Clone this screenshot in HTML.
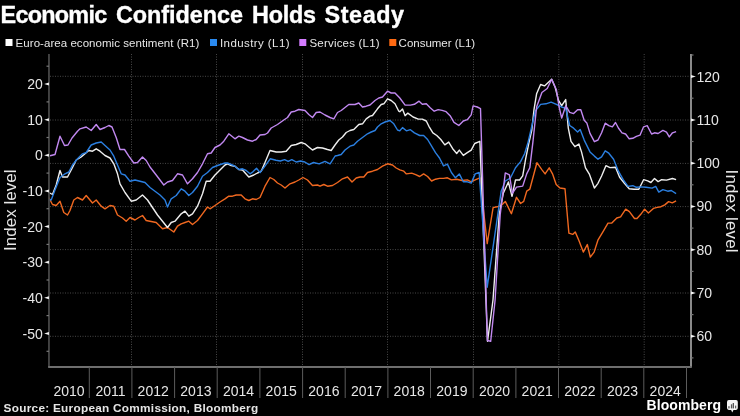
<!DOCTYPE html>
<html><head><meta charset="utf-8"><style>
html,body{margin:0;padding:0;background:#000;}
body{width:740px;height:416px;overflow:hidden;}
svg{display:block;will-change:transform;}
</style></head><body>
<svg width="740" height="416" viewBox="0 0 740 416">
<rect width="740" height="416" fill="#000"/>
<g stroke="#474747" stroke-width="1" stroke-dasharray="1 1.5"><line x1="50.0" y1="76.3" x2="690.0" y2="76.3"/><line x1="50.0" y1="120.0" x2="690.0" y2="120.0"/><line x1="50.0" y1="163.4" x2="690.0" y2="163.4"/><line x1="50.0" y1="206.6" x2="690.0" y2="206.6"/><line x1="50.0" y1="249.6" x2="690.0" y2="249.6"/><line x1="50.0" y1="293.0" x2="690.0" y2="293.0"/><line x1="50.0" y1="336.3" x2="690.0" y2="336.3"/><line x1="131.5" y1="54" x2="131.5" y2="366.0"/><line x1="216.5" y1="54" x2="216.5" y2="366.0"/><line x1="302.5" y1="54" x2="302.5" y2="366.0"/><line x1="387.5" y1="54" x2="387.5" y2="366.0"/><line x1="473.5" y1="54" x2="473.5" y2="366.0"/><line x1="558.8" y1="54" x2="558.8" y2="366.0"/><line x1="644.2" y1="54" x2="644.2" y2="366.0"/></g>
<path d="M48.8,197.5 L52.5,204.5 L56.2,205.5 L60.0,201.2 L63.8,212.5 L67.5,215.0 L70.0,210.5 L73.8,200.0 L77.5,197.5 L82.5,200.0 L86.2,195.5 L92.5,203.0 L96.2,200.0 L101.2,206.2 L105.0,208.8 L110.0,205.5 L113.8,206.2 L117.5,215.0 L122.5,218.0 L126.2,221.2 L130.0,217.5 L135.0,220.0 L138.8,217.5 L142.5,215.5 L146.2,220.5 L150.0,221.2 L156.2,222.5 L162.5,228.8 L167.5,227.5 L173.8,232.0 L177.5,226.2 L181.2,223.8 L185.0,222.5 L188.8,221.2 L192.5,224.5 L197.5,220.5 L202.5,213.8 L207.5,207.0 L210.0,208.8 L215.0,205.5 L220.0,202.0 L225.0,198.8 L228.8,196.2 L232.5,196.2 L236.2,195.0 L241.2,195.0 L245.0,198.8 L248.8,200.5 L252.5,198.8 L256.2,199.5 L260.0,197.5 L265.0,186.2 L270.0,177.5 L273.8,179.5 L277.5,183.0 L281.2,185.0 L285.0,188.0 L290.0,183.8 L295.0,182.0 L298.8,180.0 L303.0,177.5 L307.5,180.0 L312.5,185.5 L317.5,185.0 L320.0,186.2 L323.8,184.5 L327.5,186.2 L332.5,185.5 L337.5,182.5 L342.5,178.8 L347.5,177.0 L352.0,182.0 L356.2,178.0 L360.0,177.0 L363.8,177.0 L367.5,172.5 L372.5,171.2 L377.5,169.5 L382.5,166.2 L387.5,163.8 L392.5,165.0 L396.2,168.0 L399.8,169.9 L403.8,171.2 L406.4,173.9 L411.7,173.1 L415.7,174.7 L419.7,176.5 L423.6,173.9 L427.6,176.5 L431.6,181.0 L435.5,179.2 L439.5,178.4 L443.5,178.4 L447.4,177.8 L451.4,179.9 L456.7,179.2 L462.0,180.5 L467.3,179.9 L471.2,181.8 L475.2,179.9 L479.9,177.8 L487.2,243.6 L493.1,207.6 L498.2,206.5 L501.2,205.5 L505.3,201.4 L511.4,213.7 L516.5,197.3 L520.6,203.5 L523.7,201.4 L526.7,191.2 L529.8,189.2 L536.9,162.7 L542.0,169.8 L545.1,173.9 L549.2,167.8 L552.5,173.8 L556.2,184.5 L560.0,188.0 L565.0,188.8 L568.9,233.2 L572.7,234.4 L575.2,231.9 L579.0,240.7 L583.3,252.1 L587.3,244.5 L590.3,257.1 L594.1,252.1 L597.9,240.2 L602.9,231.9 L608.0,223.1 L611.8,223.1 L616.8,218.0 L620.6,216.8 L625.7,209.2 L629.4,211.7 L634.5,218.5 L637.0,218.5 L640.8,214.3 L644.6,209.2 L648.4,213.0 L653.4,208.4 L657.2,207.4 L661.0,206.7 L664.8,204.9 L668.6,201.6 L672.3,202.9 L676.1,200.9" fill="none" stroke="#f06820" stroke-width="1.4" stroke-linejoin="round"/>
<path d="M48.8,192.5 L52.5,194.5 L56.2,185.0 L60.0,170.5 L62.5,177.0 L67.5,177.0 L72.5,167.5 L76.2,160.0 L81.2,157.0 L85.0,153.8 L88.8,150.5 L92.5,151.2 L96.2,148.8 L100.0,151.2 L105.0,155.5 L110.0,158.0 L113.8,163.8 L117.5,173.8 L120.0,183.8 L125.0,192.5 L131.2,201.2 L136.2,200.0 L142.5,195.0 L147.5,200.0 L152.5,207.5 L157.5,215.0 L162.5,221.2 L167.5,227.5 L171.2,222.5 L175.0,221.2 L181.2,213.8 L185.0,211.2 L188.8,216.2 L192.5,213.8 L197.5,206.2 L202.5,193.8 L206.2,181.2 L210.0,181.2 L215.0,175.0 L220.0,170.0 L225.0,165.0 L227.5,163.8 L231.2,165.5 L235.0,166.2 L238.8,169.5 L242.5,170.0 L248.8,177.0 L253.8,175.0 L257.5,173.0 L261.2,171.2 L265.0,162.5 L270.0,150.5 L276.2,152.0 L281.2,152.0 L286.2,151.2 L291.2,145.5 L296.2,144.5 L301.2,142.5 L305.0,143.8 L308.8,147.0 L312.5,150.0 L317.5,147.5 L322.5,148.0 L327.5,149.5 L331.2,150.5 L335.0,145.0 L338.8,140.0 L342.5,137.0 L346.2,132.5 L350.0,130.5 L353.8,129.5 L358.8,124.5 L362.5,123.8 L366.2,118.8 L370.0,116.2 L372.5,115.5 L377.5,108.8 L381.2,104.5 L383.8,103.8 L387.5,98.8 L391.2,100.5 L395.0,103.8 L398.8,111.2 L399.8,111.7 L402.5,109.1 L405.1,115.7 L407.8,113.1 L413.1,117.0 L418.3,119.1 L422.3,119.1 L426.3,121.0 L428.9,126.3 L432.9,132.9 L436.8,135.5 L440.8,139.5 L444.8,144.8 L448.7,142.1 L452.7,148.7 L456.7,153.5 L459.3,150.1 L463.3,155.4 L467.3,152.7 L471.2,150.1 L474.7,143.5 L479.9,141.3 L487.5,341.3 L493.0,300.0 L499.2,214.7 L503.3,193.3 L508.4,182.0 L512.0,196.3 L515.5,180.0 L519.6,180.0 L522.7,175.9 L525.7,158.6 L528.8,143.3 L531.8,130.0 L534.0,109.7 L536.6,93.8 L540.6,84.5 L544.5,85.9 L551.7,79.3 L555.1,87.2 L558.5,100.4 L561.7,105.7 L565.7,99.6 L568.3,128.2 L571.0,141.4 L574.9,146.7 L578.9,144.0 L581.5,151.9 L585.5,167.8 L589.5,174.4 L594.4,188.1 L598.0,183.3 L601.6,176.0 L605.9,165.7 L610.0,167.6 L615.5,167.2 L619.6,177.2 L624.4,183.3 L629.2,188.8 L634.0,189.3 L638.8,189.3 L643.6,179.7 L647.7,180.9 L650.9,182.5 L654.5,178.5 L658.1,181.6 L661.7,179.7 L666.5,180.1 L672.5,178.5 L676.1,179.7" fill="none" stroke="#eeeeee" stroke-width="1.4" stroke-linejoin="round"/>
<path d="M48.8,199.5 L51.2,200.0 L55.0,190.0 L60.0,177.5 L65.0,173.8 L68.8,172.0 L72.5,165.0 L77.5,158.8 L82.5,153.8 L86.2,152.5 L91.2,145.0 L96.2,143.0 L101.2,142.0 L105.0,145.5 L110.0,150.0 L113.8,156.2 L117.5,165.0 L121.2,173.8 L125.0,175.0 L130.0,181.2 L135.0,180.0 L140.0,181.2 L145.0,182.5 L150.0,187.5 L155.0,191.2 L160.0,195.0 L165.0,200.0 L167.5,207.0 L171.2,198.8 L176.2,195.5 L181.2,188.8 L185.0,191.2 L188.8,195.5 L192.5,192.5 L197.5,186.2 L202.5,176.2 L207.5,172.5 L212.5,167.5 L217.5,165.5 L225.0,163.0 L227.5,163.0 L231.2,164.5 L235.0,166.2 L238.8,169.5 L242.5,168.8 L246.2,170.5 L250.0,173.8 L252.9,171.8 L256.5,168.2 L260.1,172.6 L264.4,166.8 L270.2,158.8 L276.0,160.3 L280.3,161.0 L284.6,159.6 L288.2,161.4 L291.8,159.6 L296.2,162.0 L300.5,161.0 L304.8,162.0 L309.1,164.6 L313.5,162.5 L319.2,163.9 L325.0,161.4 L330.1,163.9 L335.1,156.0 L337.5,155.5 L341.2,154.5 L345.0,150.0 L350.0,146.2 L353.8,145.0 L357.5,141.2 L362.5,137.5 L367.5,133.8 L371.2,132.0 L375.0,130.5 L377.5,127.0 L381.2,123.8 L385.0,122.0 L390.0,120.5 L393.8,123.8 L397.5,130.0 L399.8,130.8 L402.5,127.6 L406.4,130.8 L410.4,129.7 L414.4,132.9 L419.7,135.5 L423.6,135.5 L427.6,139.5 L431.6,146.1 L435.5,152.7 L439.5,158.0 L443.5,165.9 L447.4,164.1 L451.4,172.5 L455.4,177.8 L459.3,173.9 L463.3,181.8 L467.3,181.8 L471.2,183.1 L475.2,173.9 L479.2,172.5 L487.2,287.2 L501.2,191.2 L505.3,181.0 L510.4,178.0 L515.5,167.8 L520.6,161.6 L524.7,153.5 L527.8,143.3 L535.3,111.0 L540.6,104.4 L545.9,103.8 L551.1,102.2 L556.4,104.4 L561.7,107.0 L565.7,108.3 L569.7,125.5 L573.6,128.2 L577.6,132.1 L580.2,129.5 L584.2,140.1 L590.0,151.9 L594.4,156.1 L598.0,159.2 L601.6,156.8 L605.2,150.8 L608.8,153.2 L613.6,159.2 L618.4,171.2 L623.2,179.7 L628.0,186.4 L632.8,185.7 L636.4,187.3 L641.2,186.9 L646.0,187.3 L652.1,188.1 L655.7,186.4 L658.8,192.1 L662.9,189.7 L667.7,191.2 L671.3,190.5 L676.1,193.6" fill="none" stroke="#2b7fe0" stroke-width="1.4" stroke-linejoin="round"/>
<path d="M50.0,155.8 L55.0,154.5 L60.0,136.2 L64.5,145.5 L68.0,145.0 L72.0,138.0 L77.5,131.2 L80.0,128.8 L86.2,127.0 L91.2,130.5 L96.2,124.5 L100.0,129.5 L105.0,127.5 L108.8,125.5 L112.0,127.0 L116.2,137.5 L120.0,149.5 L124.5,149.5 L128.8,156.2 L133.8,163.0 L137.5,162.5 L142.5,157.0 L146.2,160.5 L150.0,167.0 L156.2,175.0 L163.8,185.0 L167.5,182.0 L172.5,180.5 L177.5,173.8 L182.5,175.0 L187.5,183.8 L192.5,178.8 L197.5,172.5 L202.5,163.8 L207.5,153.8 L211.2,153.0 L215.0,147.5 L220.0,145.0 L223.8,141.2 L228.8,133.8 L235.0,138.8 L238.8,136.2 L242.5,137.5 L247.5,140.0 L252.5,141.2 L256.2,139.5 L260.0,135.0 L265.0,134.5 L267.5,133.0 L271.2,128.0 L277.5,124.5 L283.8,120.0 L287.5,117.5 L291.2,112.0 L295.0,111.2 L298.8,109.5 L305.0,110.5 L308.8,114.5 L312.5,117.5 L316.2,112.5 L320.0,112.0 L325.0,115.0 L330.0,117.5 L333.8,118.8 L337.5,112.5 L341.2,110.5 L345.0,107.5 L348.8,104.5 L355.0,104.5 L358.8,103.0 L362.5,107.0 L366.2,106.2 L370.0,105.0 L375.0,100.5 L378.8,98.0 L382.5,97.0 L387.5,91.2 L391.2,93.0 L395.0,93.0 L399.8,98.0 L405.1,105.1 L410.4,105.1 L414.4,104.3 L419.1,101.2 L422.3,104.3 L426.3,103.8 L430.2,107.8 L434.2,111.2 L438.2,109.6 L442.1,110.4 L446.1,111.7 L450.1,115.7 L454.0,122.3 L458.8,125.5 L463.3,121.0 L467.3,119.7 L471.2,114.9 L473.1,105.9 L477.3,107.0 L480.5,108.6 L487.4,340.5 L490.7,341.3 L495.1,300.0 L500.2,214.7 L505.3,172.9 L509.4,174.9 L512.4,193.3 L516.5,187.1 L522.7,186.1 L526.7,173.9 L529.8,167.8 L532.9,142.2 L536.6,107.0 L541.9,92.5 L547.2,88.5 L551.7,79.3 L556.4,89.8 L559.1,107.0 L561.7,118.1 L565.7,105.7 L569.7,112.3 L573.6,113.6 L577.6,109.7 L580.8,109.7 L584.2,120.2 L586.8,122.9 L590.0,133.4 L594.4,141.7 L598.0,140.0 L601.6,132.8 L605.2,123.2 L608.8,125.6 L612.4,126.8 L615.5,122.5 L618.4,128.0 L622.0,132.8 L625.6,134.0 L629.2,138.8 L632.8,138.3 L636.4,136.4 L640.0,135.2 L643.6,126.8 L647.2,125.6 L651.6,134.0 L654.5,132.8 L658.1,133.5 L662.9,130.4 L666.5,132.1 L669.3,136.9 L672.5,132.8 L676.1,131.6" fill="none" stroke="#c188f0" stroke-width="1.4" stroke-linejoin="round"/>
<g stroke="#474747" stroke-width="1.8"><line x1="48.95" y1="54" x2="48.95" y2="367.0"/></g>
<g stroke="#9a9a9a" stroke-width="1.8"><line x1="691.0" y1="54" x2="691.0" y2="367.0"/></g>
<g stroke="#6e6e6e" stroke-width="2"><line x1="48.150000000000006" y1="367.0" x2="691.8" y2="367.0"/></g>
<g stroke="#5c5c5c" stroke-width="1"><line x1="89.3" y1="367.0" x2="89.3" y2="398"/><line x1="131.9" y1="367.0" x2="131.9" y2="398"/><line x1="174.6" y1="367.0" x2="174.6" y2="398"/><line x1="217.2" y1="367.0" x2="217.2" y2="398"/><line x1="259.9" y1="367.0" x2="259.9" y2="398"/><line x1="302.6" y1="367.0" x2="302.6" y2="398"/><line x1="345.2" y1="367.0" x2="345.2" y2="398"/><line x1="387.9" y1="367.0" x2="387.9" y2="398"/><line x1="430.5" y1="367.0" x2="430.5" y2="398"/><line x1="473.2" y1="367.0" x2="473.2" y2="398"/><line x1="515.9" y1="367.0" x2="515.9" y2="398"/><line x1="558.5" y1="367.0" x2="558.5" y2="398"/><line x1="601.2" y1="367.0" x2="601.2" y2="398"/><line x1="643.8" y1="367.0" x2="643.8" y2="398"/><line x1="686.5" y1="367.0" x2="686.5" y2="398"/></g>
<line x1="46.5" y1="351.3" x2="48.95" y2="351.3" stroke="#777" stroke-width="1.2"/><path d="M44.2,333.5 L48.95,332.0 L48.95,335.0Z" fill="#f4f4f4"/><line x1="46.5" y1="315.6" x2="48.95" y2="315.6" stroke="#777" stroke-width="1.2"/><path d="M44.2,297.8 L48.95,296.3 L48.95,299.3Z" fill="#f4f4f4"/><line x1="46.5" y1="280.0" x2="48.95" y2="280.0" stroke="#777" stroke-width="1.2"/><path d="M44.2,262.2 L48.95,260.7 L48.95,263.7Z" fill="#f4f4f4"/><line x1="46.5" y1="244.4" x2="48.95" y2="244.4" stroke="#777" stroke-width="1.2"/><path d="M44.2,226.6 L48.95,225.1 L48.95,228.1Z" fill="#f4f4f4"/><line x1="46.5" y1="208.7" x2="48.95" y2="208.7" stroke="#777" stroke-width="1.2"/><path d="M44.2,190.9 L48.95,189.4 L48.95,192.4Z" fill="#f4f4f4"/><line x1="46.5" y1="173.1" x2="48.95" y2="173.1" stroke="#777" stroke-width="1.2"/><path d="M44.2,155.3 L48.95,153.8 L48.95,156.8Z" fill="#f4f4f4"/><line x1="46.5" y1="137.5" x2="48.95" y2="137.5" stroke="#777" stroke-width="1.2"/><path d="M44.2,119.7 L48.95,118.2 L48.95,121.2Z" fill="#f4f4f4"/><line x1="46.5" y1="101.9" x2="48.95" y2="101.9" stroke="#777" stroke-width="1.2"/><path d="M44.2,84.0 L48.95,82.5 L48.95,85.5Z" fill="#f4f4f4"/><line x1="46.5" y1="66.2" x2="48.95" y2="66.2" stroke="#777" stroke-width="1.2"/><line x1="691.0" y1="357.9" x2="693.5" y2="357.9" stroke="#777" stroke-width="1.2"/><path d="M695.8,336.3 L691.0,334.8 L691.0,337.8Z" fill="#f4f4f4"/><line x1="691.0" y1="314.6" x2="693.5" y2="314.6" stroke="#777" stroke-width="1.2"/><path d="M695.8,293.0 L691.0,291.5 L691.0,294.5Z" fill="#f4f4f4"/><line x1="691.0" y1="271.4" x2="693.5" y2="271.4" stroke="#777" stroke-width="1.2"/><path d="M695.8,249.7 L691.0,248.2 L691.0,251.2Z" fill="#f4f4f4"/><line x1="691.0" y1="228.1" x2="693.5" y2="228.1" stroke="#777" stroke-width="1.2"/><path d="M695.8,206.4 L691.0,204.9 L691.0,207.9Z" fill="#f4f4f4"/><line x1="691.0" y1="184.8" x2="693.5" y2="184.8" stroke="#777" stroke-width="1.2"/><path d="M695.8,163.2 L691.0,161.7 L691.0,164.7Z" fill="#f4f4f4"/><line x1="691.0" y1="141.5" x2="693.5" y2="141.5" stroke="#777" stroke-width="1.2"/><path d="M695.8,119.9 L691.0,118.4 L691.0,121.4Z" fill="#f4f4f4"/><line x1="691.0" y1="98.2" x2="693.5" y2="98.2" stroke="#777" stroke-width="1.2"/><path d="M695.8,76.6 L691.0,75.1 L691.0,78.1Z" fill="#f4f4f4"/><line x1="691.0" y1="55.0" x2="693.5" y2="55.0" stroke="#777" stroke-width="1.2"/>
<g fill="#e6e6e6" font-family="Liberation Sans" font-size="14"><text x="42.8" y="338.5" text-anchor="end">-50</text><text x="42.8" y="302.8" text-anchor="end">-40</text><text x="42.8" y="267.2" text-anchor="end">-30</text><text x="42.8" y="231.6" text-anchor="end">-20</text><text x="42.8" y="195.9" text-anchor="end">-10</text><text x="42.8" y="160.3" text-anchor="end">0</text><text x="42.8" y="124.7" text-anchor="end">10</text><text x="42.8" y="89.0" text-anchor="end">20</text><text x="696.5" y="341.3">60</text><text x="696.5" y="298.0">70</text><text x="696.5" y="254.7">80</text><text x="696.5" y="211.4">90</text><text x="696.5" y="168.2">100</text><text x="696.5" y="124.9">110</text><text x="696.5" y="81.6">120</text><text x="69.1" y="396" text-anchor="middle">2010</text><text x="110.6" y="396" text-anchor="middle">2011</text><text x="153.2" y="396" text-anchor="middle">2012</text><text x="195.9" y="396" text-anchor="middle">2013</text><text x="238.6" y="396" text-anchor="middle">2014</text><text x="281.2" y="396" text-anchor="middle">2015</text><text x="323.9" y="396" text-anchor="middle">2016</text><text x="366.6" y="396" text-anchor="middle">2017</text><text x="409.2" y="396" text-anchor="middle">2018</text><text x="451.9" y="396" text-anchor="middle">2019</text><text x="494.5" y="396" text-anchor="middle">2020</text><text x="537.2" y="396" text-anchor="middle">2021</text><text x="579.9" y="396" text-anchor="middle">2022</text><text x="622.5" y="396" text-anchor="middle">2023</text><text x="665.2" y="396" text-anchor="middle">2024</text></g>
<text transform="translate(15.6,251) rotate(-90)" fill="#e6e6e6" font-family="Liberation Sans" font-size="17" textLength="81.5" lengthAdjust="spacing">Index level</text>
<text transform="translate(725.5,169.6) rotate(90)" fill="#e6e6e6" font-family="Liberation Sans" font-size="17" textLength="83" lengthAdjust="spacing">Index level</text>
<rect x="5.5" y="39" width="7" height="7" fill="#ffffff"/><text x="15.6" y="46.6" fill="#e6e6e6" font-family="Liberation Sans" font-size="11.5" textLength="183.7" lengthAdjust="spacing">Euro-area economic sentiment (R1)</text><rect x="210" y="39" width="7" height="7" fill="#2a8af0"/><text x="220" y="46.6" fill="#e6e6e6" font-family="Liberation Sans" font-size="11.5" textLength="69.6" lengthAdjust="spacing">Industry (L1)</text><rect x="299.3" y="39" width="7" height="7" fill="#d47cff"/><text x="309.5" y="46.6" fill="#e6e6e6" font-family="Liberation Sans" font-size="11.5" textLength="70.1" lengthAdjust="spacing">Services (L1)</text><rect x="389.3" y="39" width="7" height="7" fill="#ff6a12"/><text x="398.6" y="46.6" fill="#e6e6e6" font-family="Liberation Sans" font-size="11.5" textLength="76.6" lengthAdjust="spacing">Consumer (L1)</text>
<text x="0.6" y="22.8" fill="#ffffff" font-family="Liberation Sans" font-weight="bold" font-size="23.4" stroke="#fff" stroke-width="0.35" textLength="106.6" lengthAdjust="spacing">Economic</text>
<text x="116.0" y="22.8" fill="#ffffff" font-family="Liberation Sans" font-weight="bold" font-size="23.4" stroke="#fff" stroke-width="0.35" textLength="127.0" lengthAdjust="spacing">Confidence</text>
<text x="252.0" y="22.8" fill="#ffffff" font-family="Liberation Sans" font-weight="bold" font-size="23.4" stroke="#fff" stroke-width="0.35" textLength="64.0" lengthAdjust="spacing">Holds</text>
<text x="324.6" y="22.8" fill="#ffffff" font-family="Liberation Sans" font-weight="bold" font-size="23.4" stroke="#fff" stroke-width="0.35" textLength="79.5" lengthAdjust="spacing">Steady</text>
<text x="3.6" y="411.5" fill="#e6e6e6" font-family="Liberation Sans" font-weight="bold" font-size="11.8" textLength="254.5" lengthAdjust="spacing">Source: European Commission, Bloomberg</text>
<text x="646.5" y="410.4" fill="#ffffff" font-family="Liberation Sans" font-weight="bold" font-size="14" textLength="74.5" lengthAdjust="spacing">Bloomberg</text>
<g><rect x="727" y="400.1" width="10.8" height="9.8" rx="1.8" fill="#f4f4f4"/><path d="M730.9,409.5 L732.3,412.6 L733.7,409.5Z" fill="#f4f4f4"/><rect x="728.3" y="406.2" width="1.3" height="2.2" fill="#555"/><rect x="730.9" y="404.3" width="1.3" height="4.1" fill="#555"/><rect x="732.7" y="403" width="1.3" height="5.4" fill="#555"/><rect x="735.1" y="405.6" width="1.1" height="2.8" fill="#555"/></g>
</svg>
</body></html>
